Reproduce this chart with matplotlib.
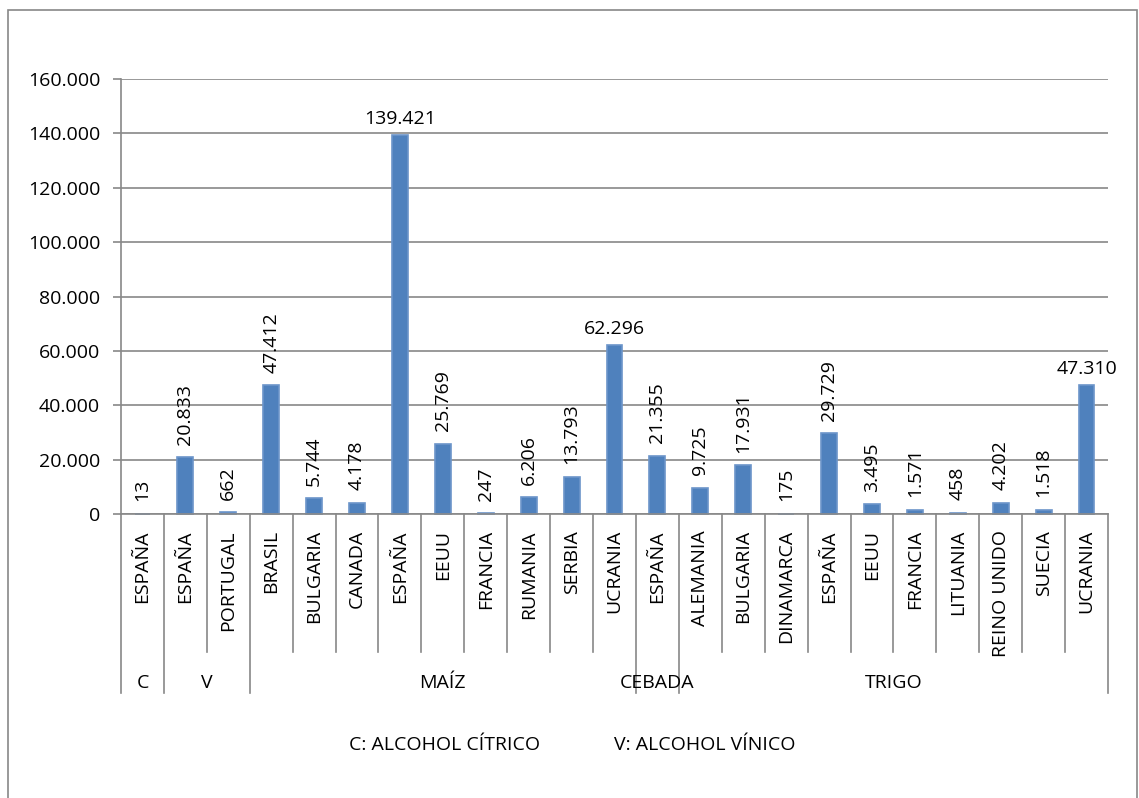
import matplotlib.pyplot as plt
from matplotlib.patches import Rectangle

plt.rcParams['font.family'] = ['Open Sans', 'DejaVu Sans']

# data
countries = ['ESPAÑA', 'ESPAÑA', 'PORTUGAL', 'BRASIL', 'BULGARIA', 'CANADA', 'ESPAÑA',
             'EEUU', 'FRANCIA', 'RUMANIA', 'SERBIA', 'UCRANIA', 'ESPAÑA', 'ALEMANIA',
             'BULGARIA', 'DINAMARCA', 'ESPAÑA', 'EEUU', 'FRANCIA', 'LITUANIA',
             'REINO UNIDO', 'SUECIA', 'UCRANIA']
values = [13, 20833, 662, 47412, 5744, 4178, 139421, 25769, 247, 6206, 13793, 62296,
          21355, 9725, 17931, 175, 29729, 3495, 1571, 458, 4202, 1518, 47310]
groups = ['C', 'V', 'MAÍZ', 'CEBADA', 'TRIGO']
group_sizes = [1, 2, 9, 1, 10]
# labels that Excel drew horizontally (the rest are rotated)
flat_labels = [6, 11, 22]
yticks = list(range(0, 160001, 20000))
notes = ['C: ALCOHOL CÍTRICO', 'V: ALCOHOL VÍNICO']

bar_color = '#4F81BD'
grey = '#888888'
fs = 14


def fmt(v):
	return f'{v:,.0f}'.replace(',', '.')


fig = plt.figure(figsize=(11.39, 7.98), dpi=100, facecolor='w')
ax = fig.add_axes([121 / 1139, 284 / 798, 987 / 1139, 435 / 798])

x = list(range(len(values)))
# thin edge in a lighter blue so the near-zero bars still show, as in Excel
ax.bar(x, values, width=0.37, color=bar_color, edgecolor='#6C95CA', linewidth=1.2,
	   zorder=3, clip_on=False)

ax.set_xlim(-0.5, len(values) - 0.5)
ax.set_ylim(0, 160000)
ax.set_yticks(yticks)
ax.set_yticklabels([fmt(t) for t in yticks], fontsize=fs)
ax.set_xticks([])
ax.yaxis.grid(True, color=grey, linewidth=1.2, zorder=0)
ax.tick_params(axis='y', length=6, width=1.2, color=grey, pad=9)
for side in ['top', 'right']:
	ax.spines[side].set_visible(False)
for side in ['left', 'bottom']:
	ax.spines[side].set_color(grey)
	ax.spines[side].set_linewidth(1.2)
	ax.spines[side].set_zorder(4)

# value labels
for i, v in enumerate(values):
	if i in flat_labels:
		ax.annotate(fmt(v), (i, v), xytext=(0, 5), textcoords='offset points',
					ha='center', va='bottom', fontsize=fs)
	else:
		ax.annotate(fmt(v), (i, v), xytext=(0, 9), textcoords='offset points',
					ha='center', va='bottom', rotation=90, fontsize=fs)

# category axis: country names, separators and group names
tr = ax.get_xaxis_transform()
for i, name in enumerate(countries):
	ax.text(i, -0.037, name, transform=tr, rotation=90, ha='center', va='top', fontsize=fs)

bounds = [0]
for s in group_sizes:
	bounds.append(bounds[-1] + s)

for b in range(len(values) + 1):
	low = -0.411 if b in bounds else -0.317
	ax.plot([b - 0.5, b - 0.5], [0, low], transform=tr, color=grey, linewidth=1.2, clip_on=False)

for g, name in enumerate(groups):
	mid = (bounds[g] + bounds[g + 1]) / 2 - 0.5
	ax.text(mid, -0.389, name, transform=tr, ha='center', va='center', fontsize=fs)

# footnotes
fig.text(445 / 1139, 1 - 745 / 798, notes[0], ha='center', va='center', fontsize=fs)
fig.text(705 / 1139, 1 - 745 / 798, notes[1], ha='center', va='center', fontsize=fs)

# outer chart border
fig.add_artist(Rectangle((8 / 1139, -0.1), 1129 / 1139, 1.1 - 10 / 798,
						 transform=fig.transFigure, fill=False, edgecolor=grey, linewidth=1.2))

fig.savefig('out.png', dpi=100, facecolor='w')
